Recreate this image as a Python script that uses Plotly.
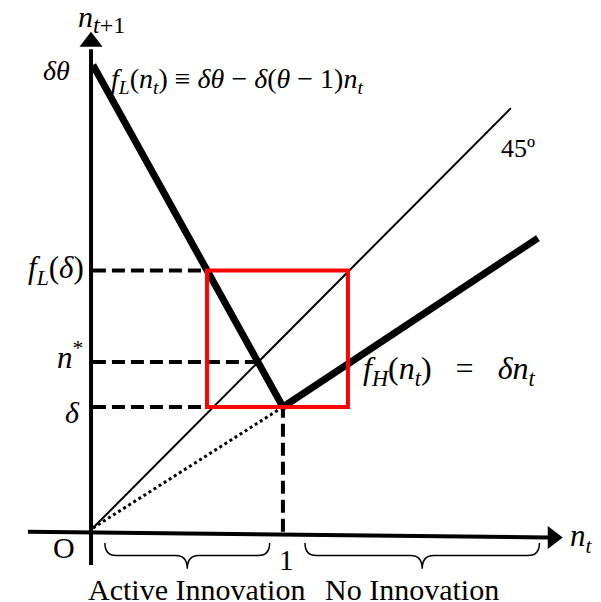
import plotly.graph_objects as go

# diagram values (in units where n_t = 1 at the kink)
delta = 0.637
delta_theta = 2.437
n_star = 0.874
fL_delta = 1.355
box_x = [0.60, 1.342]
box_y = [0.637, 1.355]
fL_x = [0.0, 1.0]
fL_y = [delta_theta, delta]
fH_x = [1.0, 2.342]
fH_y = [delta, 1.526]
line45_x = [0.0, 2.2]
line45_y = [0.0, 2.21]
dotted_x = [0.0, 1.0]
dotted_y = [0.0, delta]

# dashed guides: (x0, x1, y0, y1)
guides = [
    (0.0, 0.60, fL_delta, fL_delta),
    (0.0, 0.868, n_star, n_star),
    (0.0, 1.0, delta, delta),
    (1.0, 1.0, -0.02, delta),
]

# curly braces under the axis: (start, end)
braces = [(0.063, 0.93), (1.116, 2.35)]
brace_labels = ["Active Innovation", "No Innovation"]
brace_label_x = [0.547, 1.68]

SERIF = "Liberation Serif, Times New Roman, serif"

fig = go.Figure()

# axes
fig.add_trace(go.Scatter(x=[-0.342, 2.40], y=[-0.02, -0.05], mode="lines",
                         line=dict(color="black", width=4), hoverinfo="skip"))
fig.add_trace(go.Scatter(x=[-0.01, -0.01], y=[-0.195, 2.52], mode="lines",
                         line=dict(color="black", width=4), hoverinfo="skip"))
fig.add_trace(go.Scatter(x=[2.42], y=[-0.05], mode="markers",
                         marker=dict(symbol="triangle-right", size=20, color="black"),
                         hoverinfo="skip"))
fig.add_trace(go.Scatter(x=[-0.01], y=[2.56], mode="markers",
                         marker=dict(symbol="triangle-up", size=20, color="black"),
                         hoverinfo="skip"))

# 45 degree line and dotted ray
fig.add_trace(go.Scatter(x=line45_x, y=line45_y, mode="lines",
                         line=dict(color="black", width=2), hoverinfo="skip"))
fig.add_trace(go.Scatter(x=dotted_x, y=dotted_y, mode="lines",
                         line=dict(color="black", width=3, dash="3px,3px"), hoverinfo="skip"))

# dashed guides
for x0, x1, y0, y1 in guides:
    fig.add_trace(go.Scatter(x=[x0, x1], y=[y0, y1], mode="lines",
                             line=dict(color="black", width=4, dash="13px,6px"),
                             hoverinfo="skip"))

# red box
fig.add_shape(type="rect", x0=box_x[0], x1=box_x[1], y0=box_y[0], y1=box_y[1],
              line=dict(color="#ff0000", width=4))

# thick policy lines
fig.add_trace(go.Scatter(x=fL_x, y=fL_y, mode="lines",
                         line=dict(color="black", width=7), hoverinfo="skip"))
fig.add_trace(go.Scatter(x=fH_x, y=fH_y, mode="lines",
                         line=dict(color="black", width=7), hoverinfo="skip"))

# braces
y_top, y_mid, y_tip = -0.079, -0.145, -0.215
for x0, x1 in braces:
    xm = (x0 + x1) / 2
    r = 0.06
    path = (f"M {x0},{y_top} Q {x0},{y_mid} {x0 + r},{y_mid} "
            f"L {xm - r},{y_mid} Q {xm},{y_mid} {xm},{y_tip} "
            f"Q {xm},{y_mid} {xm + r},{y_mid} "
            f"L {x1 - r},{y_mid} Q {x1},{y_mid} {x1},{y_top}")
    fig.add_shape(type="path", path=path, line=dict(color="black", width=1.5))

for label, lx in zip(brace_labels, brace_label_x):
    fig.add_annotation(x=lx, y=-0.322, text=label, showarrow=False,
                       font=dict(family=SERIF, size=30, color="black"))

# labels
sp = "\u2002"
labels = [
    (0.047, 2.68, "<i>n</i><sub><span style='font-size:24px'><i>t</i>+1</span></sub>", "center", 30),
    (-0.19, 2.41, "<i>δθ</i>", "center", 28),
    (0.085, 2.355, "<i>f</i><sub><i>L</i></sub>(<i>n</i><sub><i>t</i></sub>) ≡ <i>δθ</i> − <i>δ</i>(<i>θ</i> − 1)<i>n</i><sub><i>t</i></sub>", "left", 28),
    (2.237, 2.0, "45º", "center", 26),
    (-0.035, 1.36, "<i>f</i><sub><i>L</i></sub>(<i>δ</i>)", "right", 31),
    (-0.04, 0.91, "<i>n</i><sup>*</sup>", "right", 31),
    (-0.06, 0.61, "<i>δ</i>", "right", 30),
    (1.41, 0.83, f"<i>f</i><sub><i>H</i></sub>(<i>n</i><sub><i>t</i></sub>){sp} = {sp}<i>δn</i><sub><i>t</i></sub>", "left", 32),
    (-0.153, -0.105, "O", "center", 30),
    (1.02, -0.17, "1", "center", 29),
    (2.50, -0.05, "<i>n</i><sub><i>t</i></sub>", "left", 31),
]
for lx, ly, text, anchor, size in labels:
    fig.add_annotation(x=lx, y=ly, text=text, showarrow=False, xanchor=anchor,
                       font=dict(family=SERIF, size=size, color="black"))

# page body adds an 8px margin, so the figure is 8px smaller and ranges shifted
fig.update_xaxes(range=[-0.447, 2.674], visible=False, fixedrange=True)
fig.update_yaxes(range=[-0.3895, 2.737], visible=False, fixedrange=True)
fig.update_layout(width=593, height=594, margin=dict(l=0, r=0, t=0, b=0),
                  plot_bgcolor="white", paper_bgcolor="white", showlegend=False)

fig.write_html("out.html")
